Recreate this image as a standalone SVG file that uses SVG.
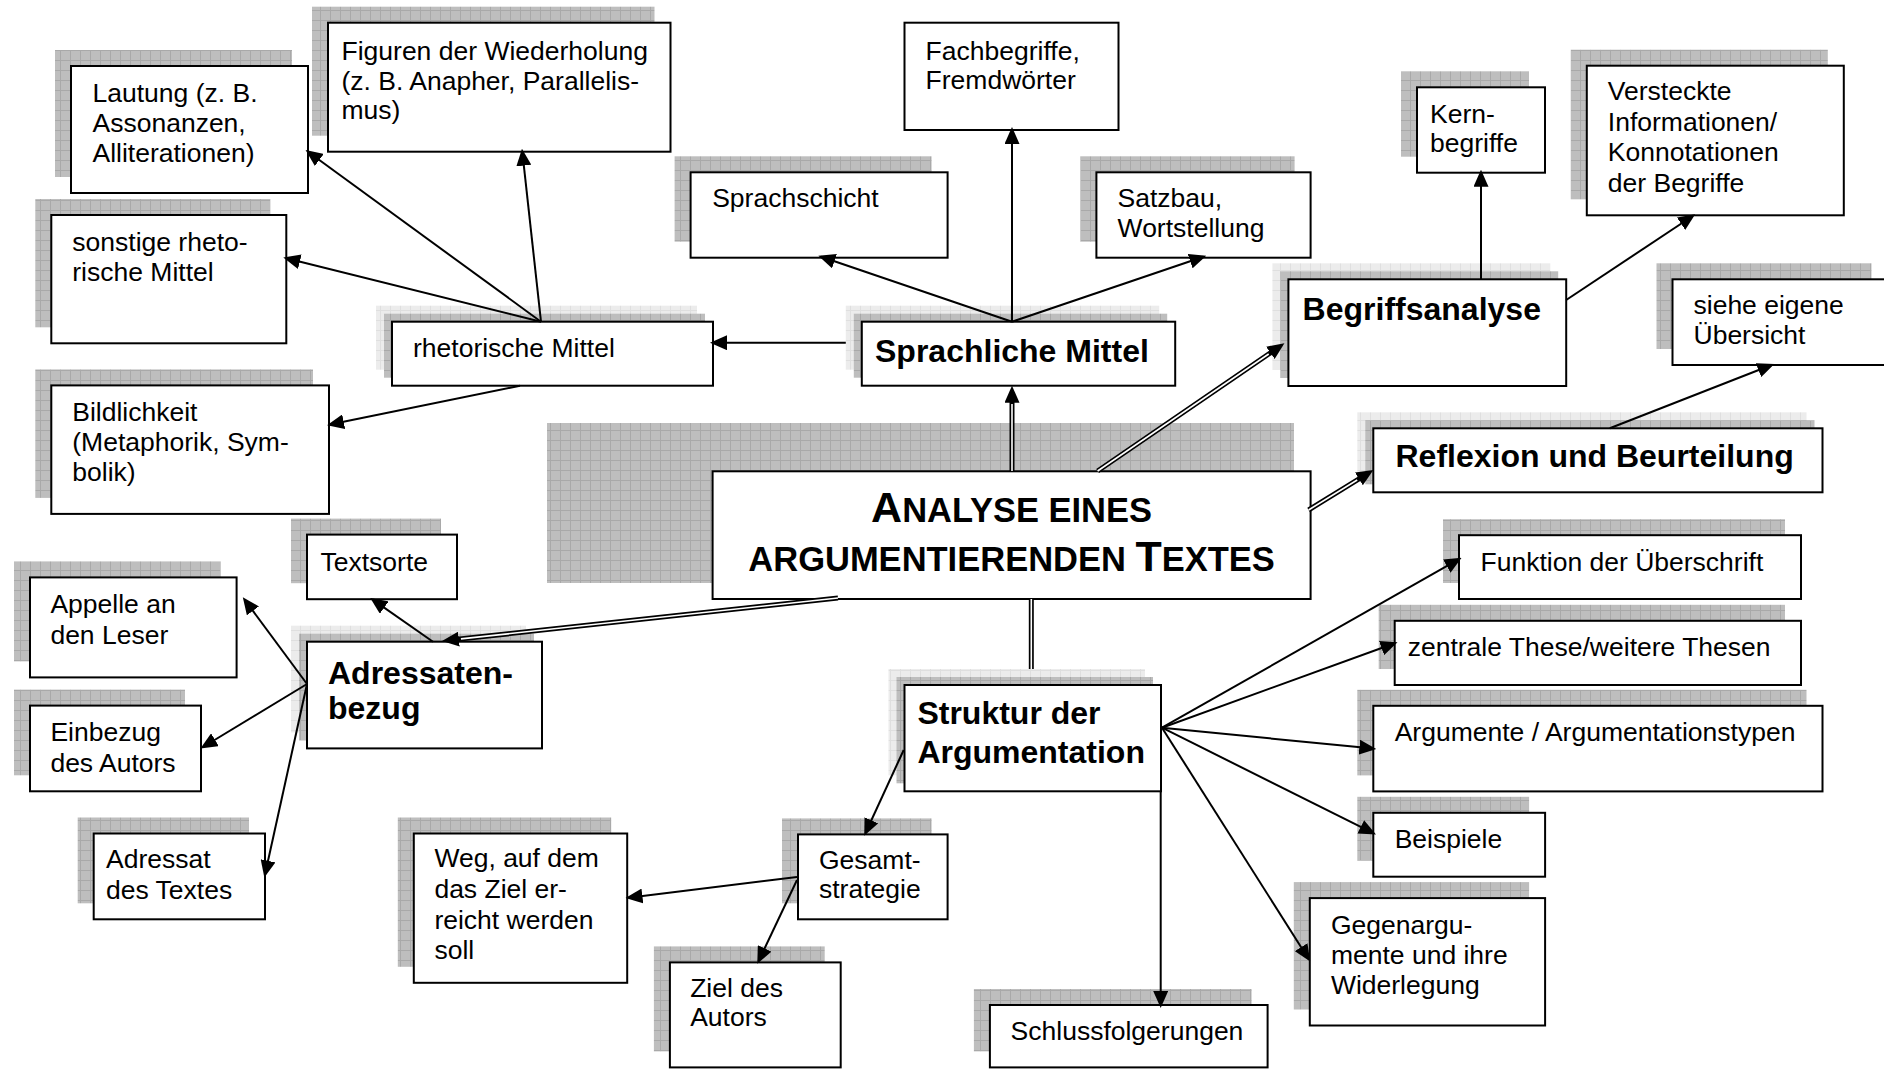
<svg xmlns="http://www.w3.org/2000/svg" width="1884" height="1069" viewBox="0 0 1884 1069">
<defs>
<pattern id="gd" width="10" height="10" patternUnits="userSpaceOnUse"><rect width="10" height="10" fill="#bebebe"/><path d="M0 0.5H10M0.5 0V10" stroke="#a9a9a9" stroke-width="1"/></pattern>
<pattern id="gl" width="10" height="10" patternUnits="userSpaceOnUse"><rect width="10" height="10" fill="#ececec"/><path d="M0 0.5H10M0.5 0V10" stroke="#dfdfdf" stroke-width="1"/></pattern>
<marker id="arr" markerUnits="userSpaceOnUse" markerWidth="17" markerHeight="15" refX="14" refY="7.5" orient="auto"><path d="M0,0 L17,7.5 L0,15 z" fill="#000"/></marker>
<marker id="arrD" markerUnits="userSpaceOnUse" markerWidth="17" markerHeight="15" refX="4" refY="7.5" orient="auto"><path d="M0,0 L17,7.5 L0,15 z" fill="#000"/></marker>
<style>
.b{fill:#fff;stroke:#000;stroke-width:2}
.sd{fill:url(#gd)}
.sl{fill:url(#gl)}
.t{font-family:"Liberation Sans",Arial,sans-serif;font-size:26.5px;fill:#000}
.tb{font-family:"Liberation Sans",Arial,sans-serif;font-size:32px;font-weight:bold;fill:#000}
.tt{font-family:"Liberation Sans",Arial,sans-serif;font-size:34.5px;font-weight:bold;fill:#000}
.c{stroke:#000;stroke-width:2;fill:none;marker-end:url(#arr)}
.d{stroke:#000;stroke-width:5;fill:none}
.da{stroke:#000;stroke-width:5;fill:none;marker-end:url(#arrD)}
.dw{stroke:#fff;stroke-width:1.6;fill:none}
</style>
</defs>
<rect width="1884" height="1069" fill="#fff"/>

<g id="n-analyse">
<rect class="sd" x="547" y="423" width="747" height="160"/>
<rect class="b" x="712.6" y="471.3" width="598" height="127.7"/>
<text class="tt" text-anchor="middle"><tspan x="1011.6" y="521.6"><tspan font-size="43">A</tspan>NALYSE EINES</tspan><tspan x="1011.6" y="570.7">ARGUMENTIERENDEN <tspan font-size="43">T</tspan>EXTES</tspan></text>
</g>

<g id="n-lautung"><rect class="sd" x="55" y="50" width="237" height="127"/><rect class="b" x="71" y="66" width="237" height="127"/><text class="t"><tspan x="92.5" y="101.7">Lautung (z. B.</tspan><tspan x="92.5" y="131.7">Assonanzen,</tspan><tspan x="92.5" y="161.7">Alliterationen)</tspan></text></g>
<g id="n-figuren"><rect class="sd" x="312" y="6.7" width="342.5" height="129"/><rect class="b" x="328" y="22.7" width="342.5" height="129"/><text class="t"><tspan x="341.5" y="60">Figuren der Wiederholung</tspan><tspan x="341.5" y="89.5">(z. B. Anapher, Parallelis-</tspan><tspan x="341.5" y="119">mus)</tspan></text></g>
<g id="n-sonstige"><rect class="sd" x="35.3" y="199" width="235" height="128.3"/><rect class="b" x="51.3" y="215" width="235" height="128.3"/><text class="t"><tspan x="72.3" y="250.7">sonstige rheto-</tspan><tspan x="72.3" y="280.5">rische Mittel</tspan></text></g>
<g id="n-rhetorische"><rect class="sl" x="376" y="305.7" width="321" height="64"/><rect class="sd" x="384" y="313.7" width="321" height="64"/><rect class="b" x="392" y="321.7" width="321" height="64"/><text class="t" x="413" y="356.7">rhetorische Mittel</text></g>
<g id="n-bildlichkeit"><rect class="sd" x="35.3" y="369.4" width="277.7" height="128.5"/><rect class="b" x="51.3" y="385.4" width="277.7" height="128.5"/><text class="t"><tspan x="72.3" y="421">Bildlichkeit</tspan><tspan x="72.3" y="451">(Metaphorik, Sym-</tspan><tspan x="72.3" y="481">bolik)</tspan></text></g>
<g id="n-fachbegriffe"><rect class="b" x="904.5" y="22.7" width="214" height="107.3"/><text class="t"><tspan x="925.6" y="60">Fachbegriffe,</tspan><tspan x="925.6" y="89">Fremdwörter</tspan></text></g>
<g id="n-sprachschicht"><rect class="sd" x="674.6" y="156.3" width="257" height="85.4"/><rect class="b" x="690.6" y="172.3" width="257" height="85.4"/><text class="t" x="712.2" y="207.3">Sprachschicht</text></g>
<g id="n-satzbau"><rect class="sd" x="1080.4" y="156.3" width="214.2" height="85.4"/><rect class="b" x="1096.4" y="172.3" width="214.2" height="85.4"/><text class="t"><tspan x="1117.6" y="207.3">Satzbau,</tspan><tspan x="1117.6" y="237">Wortstellung</tspan></text></g>
<g id="n-sprachliche"><rect class="sl" x="845.8" y="305.7" width="313.4" height="64"/><rect class="sd" x="853.8" y="313.7" width="313.4" height="64"/><rect class="b" x="861.8" y="321.7" width="313.4" height="64"/><text class="tb" x="875" y="362">Sprachliche Mittel</text></g>
<g id="n-kern"><rect class="sd" x="1401" y="71.3" width="128" height="85.4"/><rect class="b" x="1417" y="87.3" width="128" height="85.4"/><text class="t"><tspan x="1430" y="122.7">Kern-</tspan><tspan x="1430" y="151.7">begriffe</tspan></text></g>
<g id="n-versteckte"><rect class="sd" x="1570.8" y="49.7" width="257" height="149.6"/><rect class="b" x="1586.8" y="65.7" width="257" height="149.6"/><text class="t"><tspan x="1607.8" y="100">Versteckte</tspan><tspan x="1607.8" y="130.5">Informationen/</tspan><tspan x="1607.8" y="161">Konnotationen</tspan><tspan x="1607.8" y="191.5">der Begriffe</tspan></text></g>
<g id="n-begriffsanalyse"><rect class="sl" x="1272.4" y="263.3" width="277.8" height="106.7"/><rect class="sd" x="1280.4" y="271.3" width="277.8" height="106.7"/><rect class="b" x="1288.4" y="279.3" width="277.8" height="106.7"/><text class="tb" x="1302.6" y="320">Begriffsanalyse</text></g>
<g id="n-siehe"><rect class="sd" x="1656.5" y="263.3" width="215" height="85.7"/><rect class="b" x="1672.5" y="279.3" width="215" height="85.7"/><text class="t"><tspan x="1693.5" y="314">siehe eigene</tspan><tspan x="1693.5" y="344">Übersicht</tspan></text></g>
<g id="n-reflexion"><rect class="sl" x="1357.3" y="412.3" width="449.2" height="64"/><rect class="sd" x="1365.3" y="420.3" width="449.2" height="64"/><rect class="b" x="1373.3" y="428.3" width="449.2" height="64"/><text class="tb" x="1395.5" y="467.3">Reflexion und Beurteilung</text></g>
<g id="n-textsorte"><rect class="sd" x="291" y="518.6" width="150" height="64.6"/><rect class="b" x="307" y="534.6" width="150" height="64.6"/><text class="t" x="320.5" y="571">Textsorte</text></g>
<g id="n-appelle"><rect class="sd" x="14" y="561.4" width="206.6" height="100"/><rect class="b" x="30" y="577.4" width="206.6" height="100"/><text class="t"><tspan x="50.4" y="612.8">Appelle an</tspan><tspan x="50.4" y="643.5">den Leser</tspan></text></g>
<g id="n-einbezug"><rect class="sd" x="14" y="689.6" width="171" height="85.7"/><rect class="b" x="30" y="705.6" width="171" height="85.7"/><text class="t"><tspan x="50.4" y="741.3">Einbezug</tspan><tspan x="50.4" y="772">des Autors</tspan></text></g>
<g id="n-adressat"><rect class="sd" x="77.7" y="817.5" width="171.3" height="85.8"/><rect class="b" x="93.7" y="833.5" width="171.3" height="85.8"/><text class="t"><tspan x="106" y="868.4">Adressat</tspan><tspan x="106" y="899.4">des Textes</tspan></text></g>
<g id="n-adressatenbezug"><rect class="sl" x="291" y="625.7" width="235" height="106.7"/><rect class="sd" x="299" y="633.7" width="235" height="106.7"/><rect class="b" x="307" y="641.7" width="235" height="106.7"/><text class="tb"><tspan x="328" y="683.5">Adressaten-</tspan><tspan x="328" y="719">bezug</tspan></text></g>
<g id="n-funktion"><rect class="sd" x="1443" y="519.2" width="342" height="63.8"/><rect class="b" x="1459" y="535.2" width="342" height="63.8"/><text class="t" x="1480.5" y="570.8">Funktion der Überschrift</text></g>
<g id="n-zentrale"><rect class="sd" x="1378.7" y="604.8" width="406.3" height="64.2"/><rect class="b" x="1394.7" y="620.8" width="406.3" height="64.2"/><text class="t" x="1407.7" y="656">zentrale These/weitere Thesen</text></g>
<g id="n-argumente"><rect class="sd" x="1357.3" y="689.8" width="449.2" height="85.6"/><rect class="b" x="1373.3" y="705.8" width="449.2" height="85.6"/><text class="t" x="1394.7" y="741.3">Argumente / Argumentationstypen</text></g>
<g id="n-beispiele"><rect class="sd" x="1357.3" y="796.8" width="171.8" height="63.9"/><rect class="b" x="1373.3" y="812.8" width="171.8" height="63.9"/><text class="t" x="1394.7" y="847.7">Beispiele</text></g>
<g id="n-gegen"><rect class="sd" x="1293.8" y="882.1" width="235.3" height="127.4"/><rect class="b" x="1309.8" y="898.1" width="235.3" height="127.4"/><text class="t"><tspan x="1330.9" y="933.7">Gegenargu-</tspan><tspan x="1330.9" y="963.8">mente und ihre</tspan><tspan x="1330.9" y="994.3">Widerlegung</tspan></text></g>
<g id="n-struktur"><rect class="sl" x="888.5" y="669" width="256.5" height="106.3"/><rect class="sd" x="896.5" y="677" width="256.5" height="106.3"/><rect class="b" x="904.5" y="685" width="256.5" height="106.3"/><text class="tb"><tspan x="917.4" y="724.3">Struktur der</tspan><tspan x="917.4" y="762.7">Argumentation</tspan></text></g>
<g id="n-gesamt"><rect class="sd" x="782" y="818.4" width="149.6" height="84.9"/><rect class="b" x="798" y="834.4" width="149.6" height="84.9"/><text class="t"><tspan x="819" y="869.4">Gesamt-</tspan><tspan x="819" y="898.4">strategie</tspan></text></g>
<g id="n-weg"><rect class="sd" x="397.8" y="817.5" width="213.4" height="149.3"/><rect class="b" x="413.8" y="833.5" width="213.4" height="149.3"/><text class="t"><tspan x="434.4" y="867.3">Weg, auf dem</tspan><tspan x="434.4" y="898">das Ziel er-</tspan><tspan x="434.4" y="928.7">reicht werden</tspan><tspan x="434.4" y="959">soll</tspan></text></g>
<g id="n-ziel"><rect class="sd" x="653.9" y="946.4" width="170.8" height="105"/><rect class="b" x="669.9" y="962.4" width="170.8" height="105"/><text class="t"><tspan x="690.2" y="997.4">Ziel des</tspan><tspan x="690.2" y="1026.4">Autors</tspan></text></g>
<g id="n-schluss"><rect class="sd" x="973.9" y="989" width="277.7" height="62.4"/><rect class="b" x="989.9" y="1005" width="277.7" height="62.4"/><text class="t" x="1010.6" y="1040">Schlussfolgerungen</text></g>

<g id="connectors">
<path class="c" d="M541 321.7L308 151.7"/>
<path class="c" d="M541 321.7L522.3 151.7"/>
<path class="c" d="M541 321.7L286.2 258.3"/>
<path class="c" d="M520 385.7L330 424.6"/>
<path class="c" d="M845.8 342.7L713 342.7"/>
<path class="c" d="M1012 321.7L821.2 256.7"/>
<path class="c" d="M1012 321.7L1012 130"/>
<path class="c" d="M1012 321.7L1203.4 256.7"/>
<path class="c" d="M1481 279.3L1481 172.7"/>
<path class="c" d="M1566.2 300L1692.7 216"/>
<path class="c" d="M1609.8 428.3L1771.5 365"/>
<path class="c" d="M433 641.7L372.7 599.6"/>
<path class="c" d="M307 684L244.6 599.6"/>
<path class="c" d="M307 684L203 747"/>
<path class="c" d="M307 684L265 874.5"/>
<path class="c" d="M903.7 750L865.5 833"/>
<path class="c" d="M797 877L628.5 897.7"/>
<path class="c" d="M797 880L758.6 961"/>
<path class="c" d="M1160.7 791L1160.7 1005"/>
<path class="c" d="M1162 727.7L1459 559.2"/>
<path class="c" d="M1162 727.7L1394.7 643.3"/>
<path class="c" d="M1162 727.7L1373.3 748.6"/>
<path class="c" d="M1162 727.7L1373.3 833.1"/>
<path class="c" d="M1162 727.7L1308.6 959"/>
<path class="da" d="M1012 471L1012 398.7"/>
<path class="dw" d="M1012 471L1012 404"/>
<path class="da" d="M1097.6 471L1273.7 350.6"/>
<path class="dw" d="M1097.6 471L1268.7 354"/>
<path class="da" d="M1308.6 510L1362.3 476.8"/>
<path class="dw" d="M1308.6 510L1357.2 480"/>
<path class="da" d="M838 598L454.9 639.6"/>
<path class="dw" d="M838 598L460.9 638.9"/>
<path class="d" d="M1031.3 599L1031.3 669"/>
<path class="dw" d="M1031.3 599L1031.3 669"/>
</g>
</svg>
